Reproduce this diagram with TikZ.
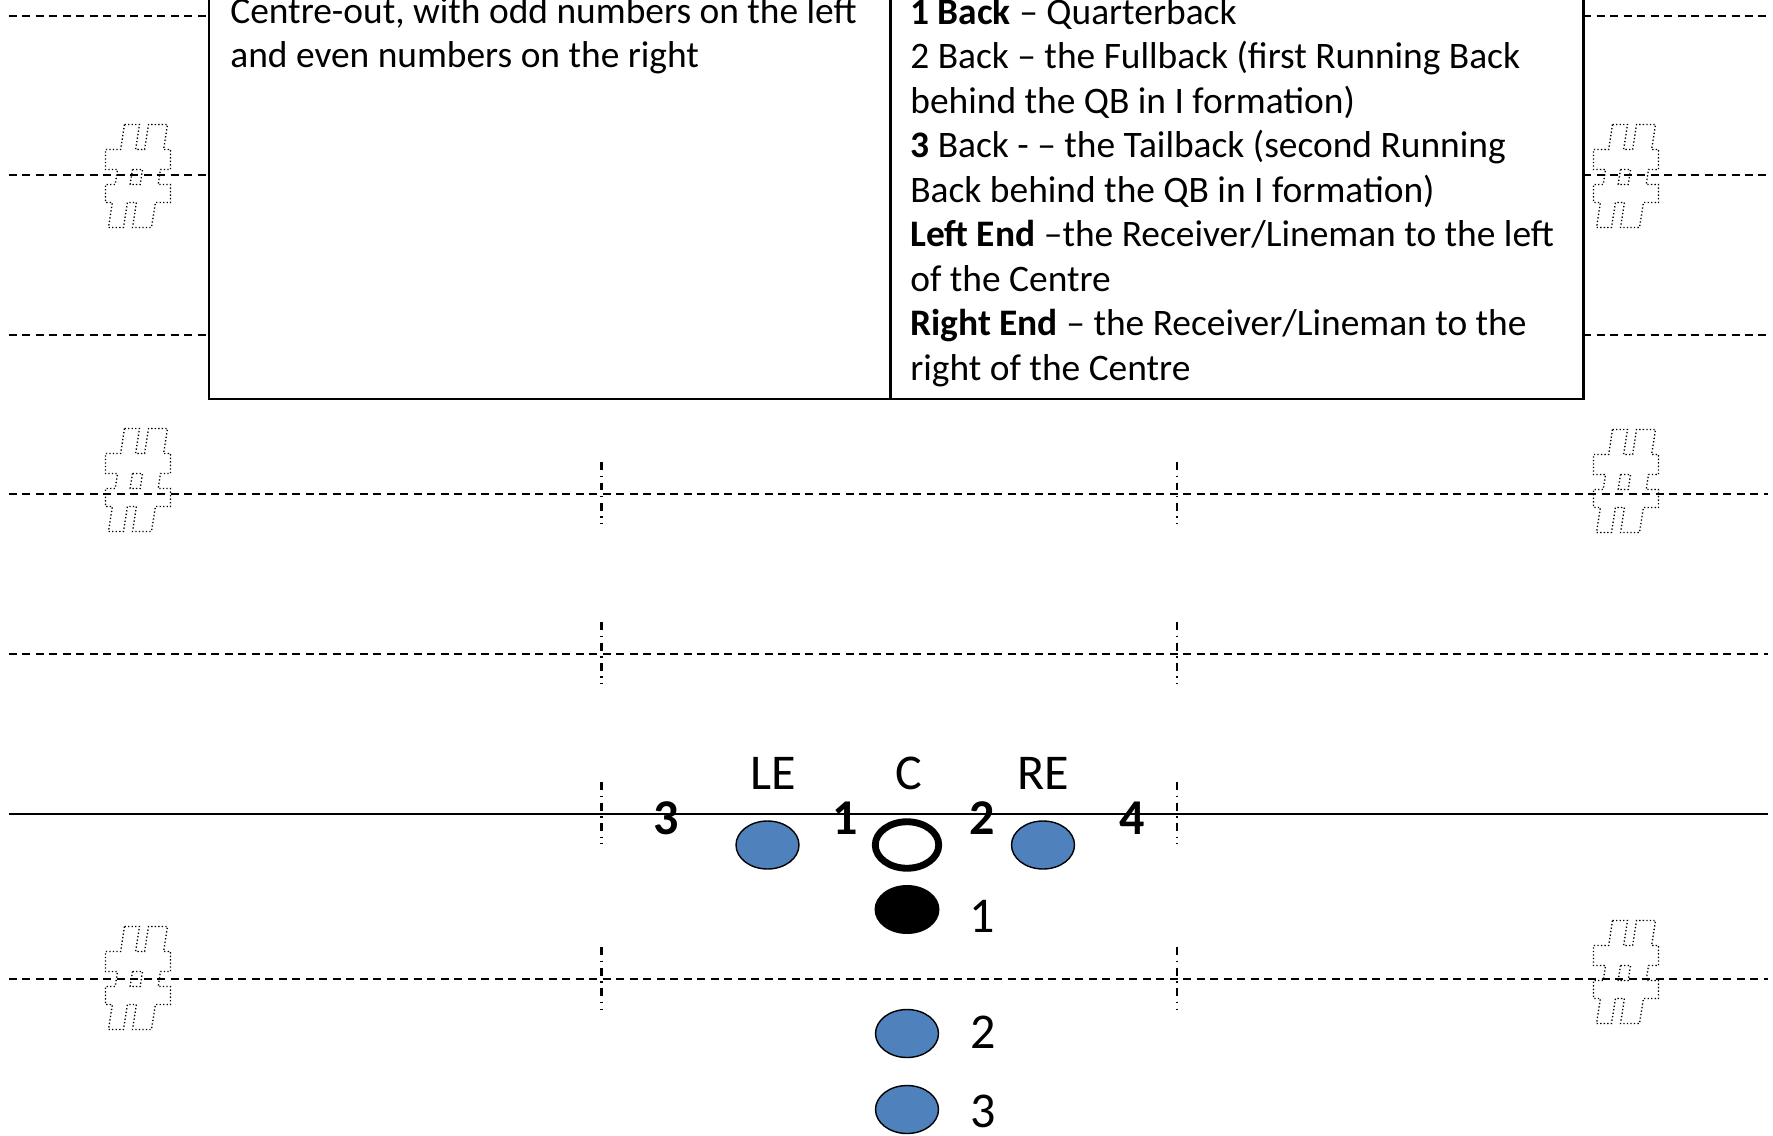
\documentclass[tikz,border=0pt]{standalone}
\usepackage{fontspec}
\setmainfont{Carlito}
\usepackage{tikz}
\usetikzlibrary{shapes,positioning}

\definecolor{backblue}{RGB}{79,129,189}
\newcommand{\tabfont}{\fontsize{21.3pt}{25.3pt}\selectfont}
\newcommand{\posfont}{\fontsize{28.5pt}{34pt}\selectfont}
% dotted outline of a hash mark, centred on #1
\newcommand{\hashmark}[1]{%
  \draw[hashdots, shift={#1}]
    (-13.5,-51.5) -- (1.5,-51.5) -- (-2.4,-26.5) -- (6.6,-26.5) -- (10.5,-51.5)
    -- (29.5,-51.5) -- (25.6,-26.5) -- (32.5,-26.5) -- (32.5,-6.5) -- (22.5,-6.5)
    -- (20.2,8.5) -- (32.5,8.5) -- (32.5,26.5) -- (17.4,26.5) -- (13.5,51.5)
    -- (-5.5,51.5) -- (-1.6,26.5) -- (-10.6,26.5) -- (-14.5,51.5) -- (-29.5,51.5)
    -- (-25.6,26.5) -- (-32.5,26.5) -- (-32.5,8.5) -- (-22.8,8.5) -- (-20.5,-6.5)
    -- (-32.5,-6.5) -- (-32.5,-26.5) -- (-17.4,-26.5) -- cycle
    (-5.5,-6.5) -- (4.5,-6.5) -- (2.2,8.5) -- (-7.8,8.5) -- cycle;}

\begin{document}
\begin{tikzpicture}
  [x=0.02cm, y=-0.02cm,
   yard/.style={line width=1.2pt, dash pattern=on 0.16cm off 0.11cm},
   tick/.style={line width=1.2pt, dash pattern=on 0.16cm off 0.11cm on 0.03cm off 0.11cm},
   hashdots/.style={line width=0.75pt, dash pattern=on 0.75pt off 1.25pt},
   player/.style={ellipse, draw, line width=0.8pt, fill=backblue, minimum width=1.26cm, minimum height=0.96cm, inner sep=0pt},
   poslbl/.style={font=\posfont, inner sep=0pt},
   gaplbl/.style={font=\posfont\bfseries, inner sep=0pt}]
  \useasboundingbox (0,0) rectangle (1773,1135);
  \clip (0,0) rectangle (1773,1135);

  % yard lines
  \foreach \y in {16,175,335} {
    \draw[yard] (9,\y) -- (209,\y);
    \draw[yard] (1583,\y) -- (1768,\y);
  }
  \foreach \y in {494,654,979}
    \draw[yard] (9,\y) -- (1768,\y);
  \draw[line width=1.2pt] (9,814) -- (1768,814); % line of scrimmage
  \foreach \y in {494,654,814,979} {
    \draw[tick] (601.5,\y-32) -- (601.5,\y+30);
    \draw[tick] (1177,\y-32) -- (1177,\y+30);
  }

  % hash marks
  \hashmark{(138,176)}
  \hashmark{(138,480)}
  \hashmark{(138,978)}
  \hashmark{(1626,176)}
  \hashmark{(1626,481)}
  \hashmark{(1626,972)}

  % table (base anchor sits on the last line)
  \draw[line width=1.7pt] (209,-40) -- (209,399) -- (1583,399) -- (1583,-40);
  \draw[line width=1.7pt] (890,-40) -- (890,399);
  \node[anchor=base west, align=left, font=\tabfont, inner sep=0pt] (holes) at (230,68)
    {Centre-out, with odd numbers on the left\\and even numbers on the right};
  \node[anchor=base west, align=left, font=\tabfont, inner sep=0pt] (names) at (910,380)
    {\textbf{1 Back} – Quarterback\\
     2 Back – the Fullback (first Running Back\\
     behind the QB in I formation)\\
     \textbf{3} Back - – the Tailback (second Running\\
     Back behind the QB in I formation)\\
     \textbf{Left End} –the Receiver/Lineman to the left\\
     of the Centre\\
     \textbf{Right End} – the Receiver/Lineman to the\\
     right of the Centre};

  % players
  \node[player] (LE) at (767.5,845) {};
  \node[ellipse, draw, line width=3.9pt, fill=white, minimum width=1.27cm, minimum height=0.93cm, inner sep=0pt] (C) at (907,845) {};
  \node[player] (RE) at (1043,845) {};
  \node[ellipse, fill=black, minimum width=1.3cm, minimum height=0.98cm, inner sep=0pt] (QB) at (907,909.5) {};
  \node[player] (FB) at (907,1033.5) {};
  \node[player] (TB) at (907,1109.5) {};

  \node[poslbl] (LEtxt) at (773,773) {LE};
  \node[poslbl] (Ctxt) at (909,773) {C};
  \node[poslbl] (REtxt) at (1043,773) {RE};
  \node[gaplbl] (g3) at (666,818) {3};
  \node[gaplbl] (g1) at (845,818) {1};
  \node[gaplbl] (g2) at (982,818) {2};
  \node[gaplbl] (g4) at (1132,818) {4};
  \node[poslbl] (QBtxt) at (982,916) {1};
  \node[poslbl] (FBtxt) at (983,1032) {2};
  \node[poslbl] (TBtxt) at (983,1111) {3};
\end{tikzpicture}
\end{document}
